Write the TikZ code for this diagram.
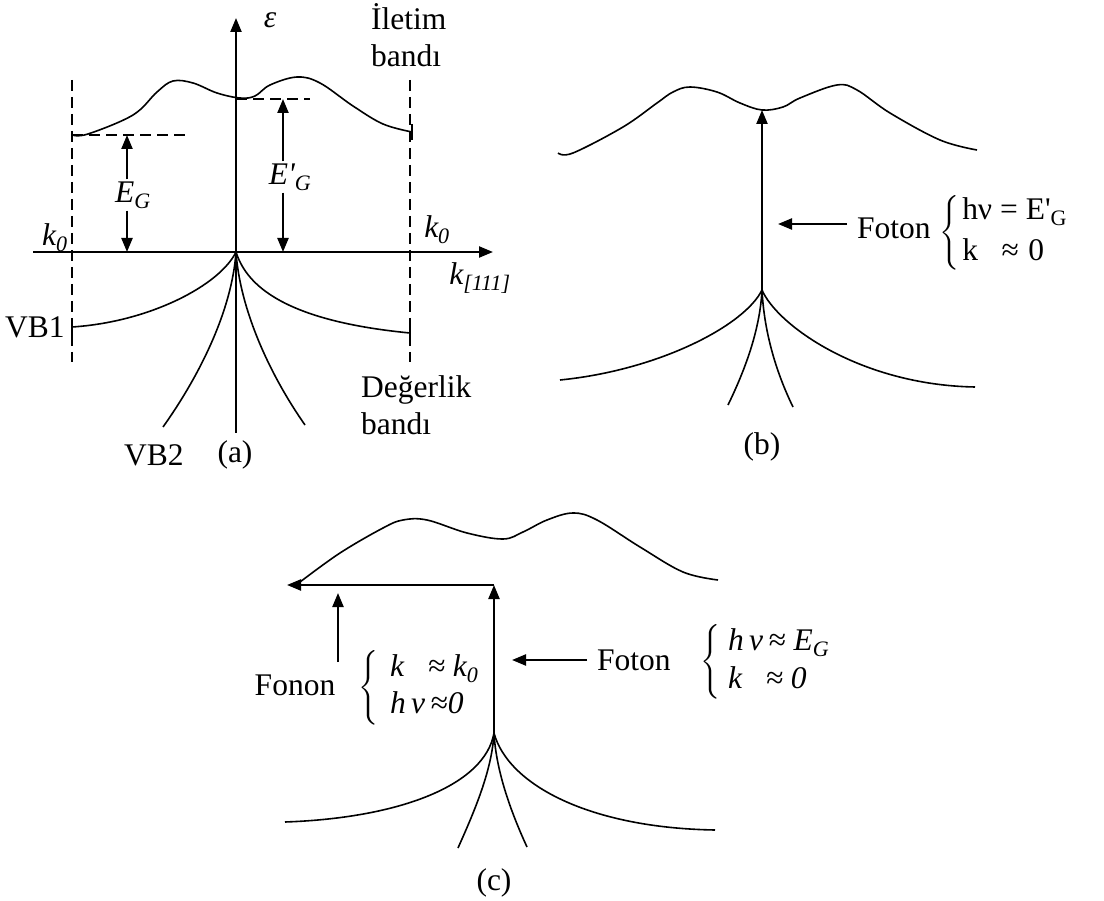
\documentclass[tikz,border=0pt]{standalone}
\usepackage{amsmath}
\usepackage{fontspec}
\setmainfont{Liberation Serif}
\usetikzlibrary{arrows.meta, positioning, calc}

\begin{document}
\begin{tikzpicture}[x=1pt, y=-1pt,
    txt/.style={font=\fontsize{31.5}{37}\selectfont, inner sep=2pt},
    arr/.style={line width=2.2pt, -{Triangle[length=14pt, width=11pt]}},
    band/.style={line width=1.6pt},
    zone/.style={line width=1.4pt, dash pattern=on 11pt off 6pt}]
    \useasboundingbox (0,0) rectangle (1104,901);

    % (a) axes
    \coordinate (yb) at (236,433);
    \coordinate (yt) at (236,18);
    \coordinate (xl) at (33,252);
    \coordinate (xr) at (493,252);
    \draw[arr] (yb) -- (yt);
    \draw[arr] (xl) -- (xr);

    % (a) zone edges
    \draw[zone] (72,80) -- (72,362);
    \draw[zone] (410,80) -- (410,362);
    \draw[zone] (72,135) -- (190,135);
    \draw[zone] (236,99) -- (310,99);
    \draw[band] (72,319) -- (72,335);
    \draw[band] (410,325) -- (410,341);
    \draw[band] (412,124) -- (412,140);

    % (a) bands
    \draw[band] plot[smooth, tension=0.6] coordinates {(72,135) (88,134) (133,115) (157,92) (173,81) (193,83) (217,93) (240,98) (255,96) (270,85) (297,77) (320,83) (353,106) (383,124) (412,132)};
    \draw[band] (72,327) .. controls (150,322) and (220,285) .. (236,252);
    \draw[band] (236,252) .. controls (245,280) and (275,320) .. (410,333);
    \draw[band] (163,427) .. controls (200,375) and (232,310) .. (236,252);
    \draw[band] (305,425) .. controls (270,375) and (240,310) .. (236,252);

    % (a) gaps
    \node[txt] (EG) at (133,195) {\textit{E\textsubscript{G}}};
    \coordinate (egt) at (127,135);
    \coordinate (egb) at (127,252);
    \draw[arr] (EG.north -| egt) -- (egt);
    \draw[arr] (EG.south -| egb) -- (egb);
    \node[txt] (EpG) at (290,177) {\textit{E\textquotesingle\textsubscript{G}}};
    \coordinate (epgt) at (283,99);
    \coordinate (epgb) at (283,252);
    \draw[arr] (EpG.north -| epgt) -- (epgt);
    \draw[arr] (EpG.south -| epgb) -- (epgb);

    % (a) labels
    \node[txt] (eps) at (270,20) {\textit{ε}};
    \node[txt, anchor=west, align=left] (iletim) at (369,35) {İletim\\bandı};
    \node[txt, anchor=west, align=left] (degerlik) at (359,405) {Değerlik\\bandı};
    \node[txt] (k0l) at (55,238) {\textit{k\textsubscript{0}}};
    \node[txt] (k0r) at (437,230) {\textit{k\textsubscript{0}}};
    \node[txt] (k111) at (480,278) {\textit{k\textsubscript{[111]}}};
    \node[txt] (vb1) at (35,327) {VB1};
    \node[txt] (vb2) at (154,455) {VB2};
    \node[txt] (capa) at (235,455) {(a)};

    % (b) bands
    \draw[band] plot[smooth, tension=0.6] coordinates {(558,153) (573,153) (623,127) (657,103) (673,92) (690,87) (717,92) (740,103) (762,110) (783,107) (800,98) (837,85) (857,90) (890,113) (940,140) (977,150)};
    \draw[band] (560,380) .. controls (660,370) and (745,325) .. (762,290);
    \draw[band] (762,290) .. controls (777,325) and (860,385) .. (975,387);
    \draw[band] (728,405) .. controls (745,370) and (760,330) .. (762,290);
    \draw[band] (793,407) .. controls (775,370) and (764,330) .. (762,290);

    % (b) transition
    \coordinate (vbb) at (762,290);
    \coordinate (cbb) at (762,110);
    \draw[arr] (vbb) -- (cbb);
    \node[txt, anchor=west] (fotonb) at (855,228) {Foton};
    \coordinate (tipb) at (778,224);
    \draw[arr, shorten <=8pt] (fotonb.west |- tipb) -- (tipb);
    \node[txt, anchor=west] (eqb) at (937,233) {$\left\{\begin{tabular}{@{\hspace{3pt}}l@{}}hν = E\textquotesingle\textsubscript{G}\\[4pt]k\hspace{0.75em}≈\hspace{0.3em}0\end{tabular}\right.$};
    \node[txt] (capb) at (762,447) {(b)};

    % (c) bands
    \draw[band] plot[smooth, tension=0.6] coordinates {(300,582) (340,553) (383,528) (403,520) (427,520) (467,533) (503,539) (523,532) (547,520) (573,513) (597,520) (640,547) (683,572) (718,580)};
    \draw[band] (285,822) .. controls (400,818) and (485,785) .. (494,733);
    \draw[band] (494,733) .. controls (508,785) and (590,828) .. (715,830);
    \draw[band] (458,848) .. controls (475,810) and (492,770) .. (494,733);
    \draw[band] (527,847) .. controls (510,810) and (496,770) .. (494,733);

    % (c) transitions
    \coordinate (vbc) at (494,733);
    \coordinate (cbc) at (494,585);
    \coordinate (kc) at (287,585);
    \draw[arr] (vbc) -- (cbc);
    \draw[arr] (cbc) -- (kc);
    \node[txt, anchor=west] (fotonc) at (595,660) {Foton};
    \coordinate (tipc) at (512,660);
    \draw[arr, shorten <=8pt] (fotonc.west |- tipc) -- (tipc);
    \node[txt, anchor=west] (eqc) at (698,662) {$\left\{\begin{tabular}{@{\hspace{8pt}}l@{}}\textit{h\,ν\,≈ E\textsubscript{G}}\\[1pt]\textit{k\hspace{0.75em}≈ 0}\end{tabular}\right.$};
    \node[txt] (fonon) at (295,685) {Fonon};
    \coordinate (fonb) at (338,662);
    \coordinate (font) at (338,593);
    \draw[arr] (fonb) -- (font);
    \node[txt, anchor=west] (eqf) at (356,688) {$\left\{\begin{tabular}{@{\hspace{12pt}}l@{}}\textit{k\hspace{0.75em}≈ k\textsubscript{0}}\\[0pt]\textit{h\,ν\,≈0}\end{tabular}\right.$};
    \node[txt] (capc) at (494,883) {(c)};
\end{tikzpicture}
\end{document}
